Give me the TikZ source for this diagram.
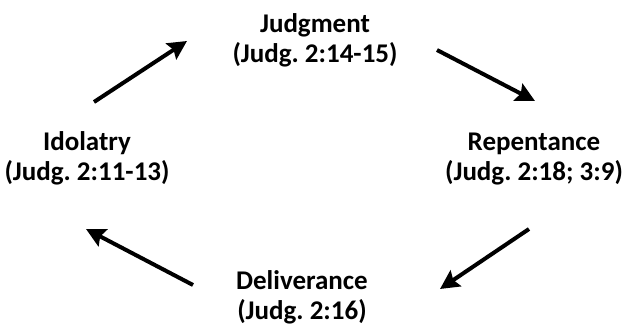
\documentclass[tikz,border=0pt]{standalone}
\usepackage{fontspec}
\setmainfont{Carlito}
\usetikzlibrary{arrows.meta}
\begin{document}
\frenchspacing
\begin{tikzpicture}[x=1pt,y=-1pt,
  lbl/.style={align=center,font=\fontsize{27}{30}\selectfont\bfseries\frenchspacing,inner sep=0pt},
  cyc/.style={line width=4pt,-{Stealth[length=19pt,width=19pt,inset=3pt]}}]
\useasboundingbox (0,0) rectangle (630,329);
\node[lbl] (judg) at (315,40) {Judgment\\(Judg. 2:14-15)};
\node[lbl] (rep) at (534,159) {Repentance\\(Judg. 2:18; 3:9)};
\node[lbl] (del) at (302,297) {Deliverance\\(Judg. 2:16)};
\node[lbl] (ido) at (87,158) {Idolatry\\(Judg. 2:11-13)};
\coordinate (a1s) at (94,102); \coordinate (a1e) at (187,41);
\coordinate (a2s) at (437,50); \coordinate (a2e) at (535,101);
\coordinate (a3s) at (529,229); \coordinate (a3e) at (440,289);
\coordinate (a4s) at (193,285); \coordinate (a4e) at (86,229);
\draw[cyc] (a1s) -- (a1e);
\draw[cyc] (a2s) -- (a2e);
\draw[cyc] (a3s) -- (a3e);
\draw[cyc] (a4s) -- (a4e);
\end{tikzpicture}
\end{document}
